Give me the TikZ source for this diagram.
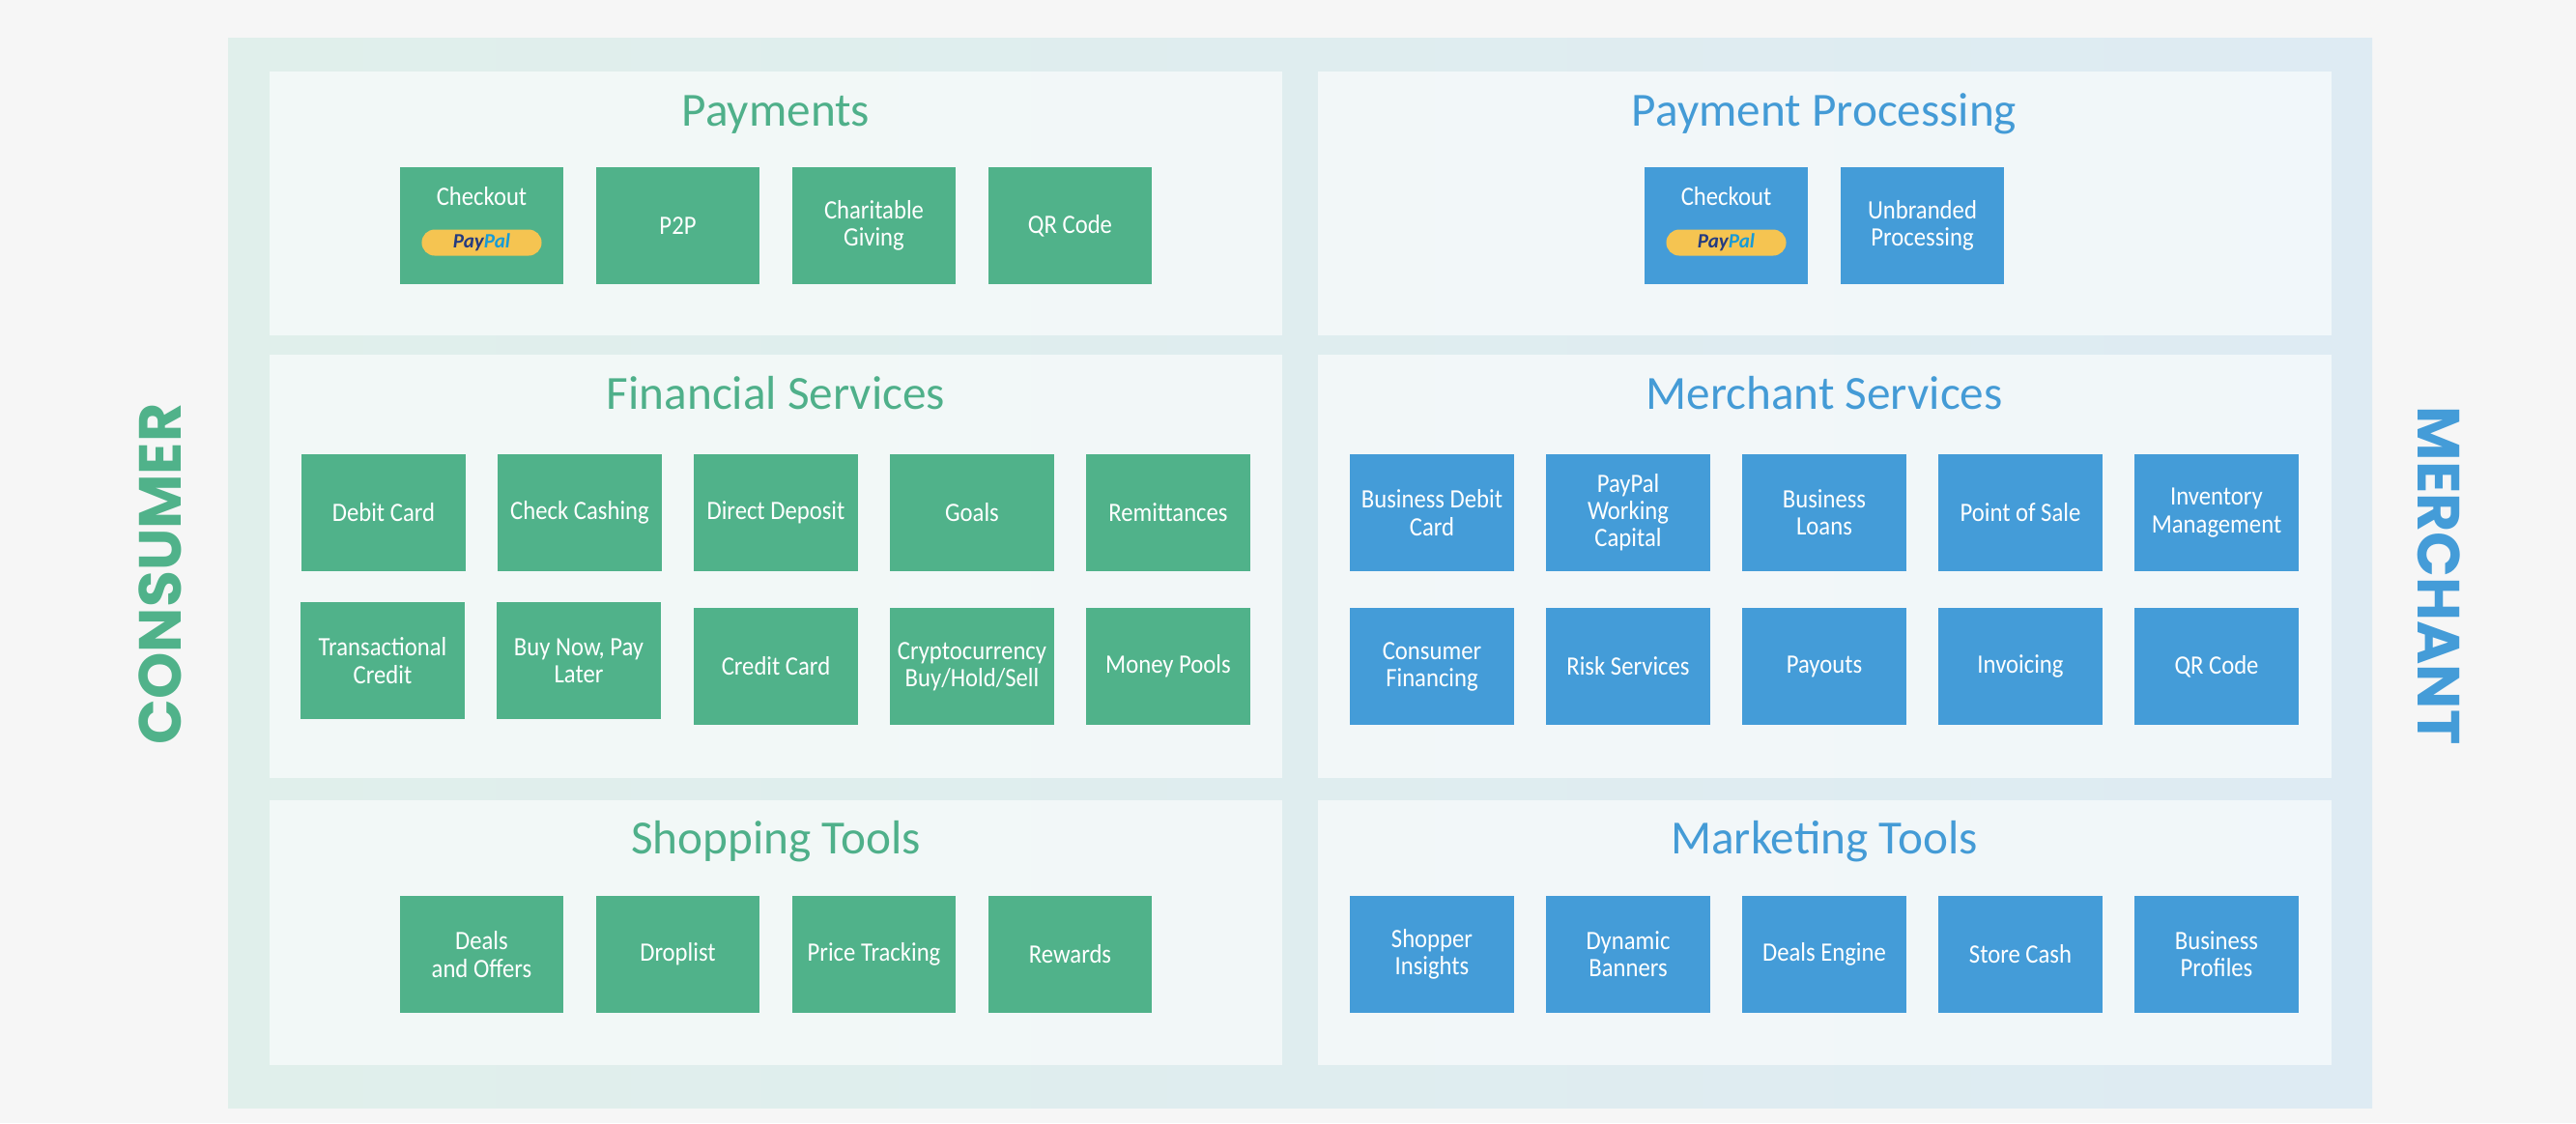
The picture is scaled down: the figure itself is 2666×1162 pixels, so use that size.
\documentclass[tikz,border=0pt]{standalone}
\usepackage{fontspec}
\setmainfont{Carlito}
\newfontfamily\boxfam{Carlito}[FakeStretch=0.9]
\newfontfamily\sidefont{Poppins}
\definecolor{bgc}{RGB}{246,246,246}
\definecolor{frameL}{RGB}{224,239,235}
\definecolor{frameM}{RGB}{202,228,230}
\definecolor{frameR}{RGB}{222,235,243}
\definecolor{boxgreen}{RGB}{80,178,138}
\definecolor{boxblue}{RGB}{68,156,216}
\definecolor{ttlgreen}{RGB}{79,176,138}
\definecolor{ttlblue}{RGB}{68,155,214}
\definecolor{badgey}{RGB}{245,196,81}
\definecolor{ppnavy}{RGB}{37,59,128}
\definecolor{pplight}{RGB}{23,155,215}
\newcommand\bxfont{\boxfam\fontsize{7.8}{8}\selectfont}
\newcommand\ttlfont{\fontsize{14}{16}\selectfont}
\newcommand\ppbadge{{\fontsize{6}{7}\selectfont\bfseries\itshape\textcolor{ppnavy}{Pay}\textcolor{pplight}{Pal}}}
\tikzset{
  gbox/.style={fill=boxgreen, text=white, minimum width=1.69cm, minimum height=1.21cm, inner sep=0pt, align=center, font=\bxfont},
  bbox/.style={fill=boxblue, text=white, minimum width=1.69cm, minimum height=1.21cm, inner sep=0pt, align=center, font=\bxfont},
  gttl/.style={anchor=base, text=ttlgreen, font=\ttlfont, inner sep=0pt},
  bttl/.style={anchor=base, text=ttlblue, font=\ttlfont, inner sep=0pt},
  panel/.style={fill=white, fill opacity=0.6},
  badge/.style={fill=badgey, rounded corners=0.135cm, minimum width=1.24cm, minimum height=0.27cm, inner sep=0pt},
  cktext/.style={anchor=base, text=white, font=\bxfont, inner sep=0pt},
  side/.style={font=\sidefont\bfseries\fontsize{17.5}{18}\selectfont, inner sep=0pt}
}
\begin{document}
\begin{tikzpicture}[x=0.01cm,y=-0.01cm]
\useasboundingbox (0,0) rectangle (2666,1162);
\fill[bgc] (0,0) rectangle (2666,1162);
% outer frame
\shade[left color=frameL, middle color=frameM, right color=frameR] (236,39) rectangle (2455,1146);
% panels
\fill[panel] (279,74) rectangle (1327,347);
\fill[panel] (279,367) rectangle (1327,805);
\fill[panel] (279,828) rectangle (1327,1102);
\fill[panel] (1364,74) rectangle (2413,347);
\fill[panel] (1364,367) rectangle (2413,805);
\fill[panel] (1364,828) rectangle (2413,1102);

% side labels
\node[side, text=boxgreen, rotate=90] (consumer) at (165.5,594) {CONSUMER};
\node[side, text=boxblue, rotate=-90] (merchant) at (2524.5,595.5) {MERCHANT};

% ---------- Payments ----------
\node[gttl] (tpay) at (803,130) {Payments};
\node[gbox] (p1) at (498.5,233.5) {};
\node[cktext] (p1t) at (498.5,212) {Checkout};
\node[badge] (p1b) at (498.5,251) {\ppbadge};
\node[gbox] (p2) at (701.5,233.5) {P2P};
\node[gbox] (p3) at (904.5,233.5) {Charitable\\Giving};
\node[gbox] (p4) at (1107.5,233.5) {QR Code};

% ---------- Financial Services ----------
\node[gttl] (tfin) at (803,423) {Financial Services};
\node[gbox] (f1) at (397,530.5) {Debit Card};
\node[gbox] (f2) at (600,530.5) {Check Cashing};
\node[gbox] (f3) at (803,530.5) {Direct Deposit};
\node[gbox] (f4) at (1006,530.5) {Goals};
\node[gbox] (f5) at (1209,530.5) {Remittances};
\node[gbox] (f6) at (396,683.5) {Transactional\\Credit};
\node[gbox] (f7) at (599,683.5) {Buy Now, Pay\\Later};
\node[gbox] (f8) at (803,689.5) {Credit Card};
\node[gbox] (f9) at (1006,689.5) {Cryptocurrency\\Buy/Hold/Sell};
\node[gbox] (f10) at (1209,689.5) {Money Pools};

% ---------- Shopping Tools ----------
\node[gttl] (tshop) at (803,883) {Shopping Tools};
\node[gbox] (s1) at (498.5,987.5) {Deals\\and Offers};
\node[gbox] (s2) at (701.5,987.5) {Droplist};
\node[gbox] (s3) at (904.5,987.5) {Price Tracking};
\node[gbox] (s4) at (1107.5,987.5) {Rewards};

% ---------- Payment Processing ----------
\node[bttl] (tproc) at (1888,130) {Payment Processing};
\node[bbox] (q1) at (1786.5,233.5) {};
\node[cktext] (q1t) at (1786.5,212) {Checkout};
\node[badge] (q1b) at (1786.5,251) {\ppbadge};
\node[bbox] (q2) at (1989.5,233.5) {Unbranded\\Processing};

% ---------- Merchant Services ----------
\node[bttl] (tmer) at (1888,423) {Merchant Services};
\node[bbox] (m1) at (1482,530.5) {Business Debit\\Card};
\node[bbox] (m2) at (1685,530.5) {PayPal\\Working\\Capital};
\node[bbox] (m3) at (1888,530.5) {Business\\Loans};
\node[bbox] (m4) at (2091,530.5) {Point of Sale};
\node[bbox] (m5) at (2294,530.5) {Inventory\\Management};
\node[bbox] (m6) at (1482,689.5) {Consumer\\Financing};
\node[bbox] (m7) at (1685,689.5) {Risk Services};
\node[bbox] (m8) at (1888,689.5) {Payouts};
\node[bbox] (m9) at (2091,689.5) {Invoicing};
\node[bbox] (m10) at (2294,689.5) {QR Code};

% ---------- Marketing Tools ----------
\node[bttl] (tmkt) at (1888,883) {Marketing Tools};
\node[bbox] (k1) at (1482,987.5) {Shopper\\Insights};
\node[bbox] (k2) at (1685,987.5) {Dynamic\\Banners};
\node[bbox] (k3) at (1888,987.5) {Deals Engine};
\node[bbox] (k4) at (2091,987.5) {Store Cash};
\node[bbox] (k5) at (2294,987.5) {Business\\Profiles};
\end{tikzpicture}
\end{document}
